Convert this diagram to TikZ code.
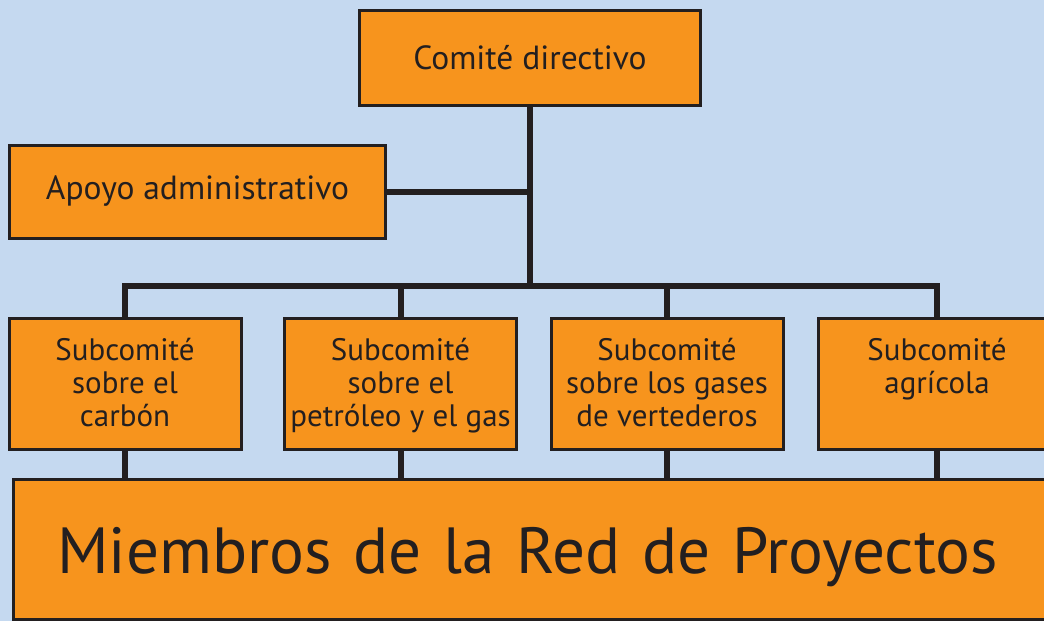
\documentclass[tikz,border=0pt]{standalone}
\usepackage{fontspec}
\setmainfont{PT Sans}
\definecolor{bg}{HTML}{C5D9F0}
\definecolor{org}{HTML}{F7941D}
\definecolor{ink}{HTML}{231F20}
\newcommand{\topstrut}{\rule{0pt}{30.5pt}}
\begin{document}
\begin{tikzpicture}[x=1pt,y=-1pt,
  box/.style={draw=ink, line width=3pt, fill=org, text=ink, inner sep=0pt, align=center,
    font=\fontsize{33.5}{36}\selectfont},
  subbox/.style={box, minimum width=232pt, minimum height=131pt, font=\fontsize{31}{33}\selectfont},
  link/.style={draw=ink, line width=6pt}]
\fill[bg] (0,0) rectangle (1044,621);
\useasboundingbox (0,0) rectangle (1044,621);
\clip (0,0) rectangle (1044,621);
\coordinate (bus) at (530,286);
\node[box, minimum width=341pt, minimum height=95pt] (cd) at (530,57.5) {Comité directivo};
\node[box, minimum width=376pt, minimum height=93pt] (ap) at (197.5,191.5) {Apoyo administrativo};
\node[subbox] (s1) at (125,383.5) {\topstrut Subcomité\\sobre el\\carbón\strut};
\node[subbox] (s2) at (400.5,383.5) {\topstrut Subcomité\\sobre el\\petróleo y el gas\strut};
\node[subbox] (s3) at (667,383.5) {\topstrut Subcomité\\sobre los gases\\de vertederos\strut};
\node[subbox, minimum width=238pt] (s4) at (937,383.5) {\topstrut Subcomité\\agrícola\\\strut};
\node[box, minimum height=140pt, text width=959pt, inner xsep=44pt, align=left,
  text height=48pt, text depth=0pt,
  font=\fontsize{65.2}{70}\selectfont] (red) at (536.5,549) {Miembros de la Red de Proyectos};
\draw[link] (cd) -- (bus);
\draw[link] (ap.east) -- (ap.east -| bus);
\draw[link] (s1.north) -- (s1.north |- bus) -- (s4.north |- bus) -- (s4.north);
\draw[link] (s2.north) -- (s2.north |- bus);
\draw[link] (s3.north) -- (s3.north |- bus);
\foreach \s in {s1,s2,s3,s4} \draw[link] (\s.south) -- (\s.south |- red.north);
\end{tikzpicture}
\end{document}
